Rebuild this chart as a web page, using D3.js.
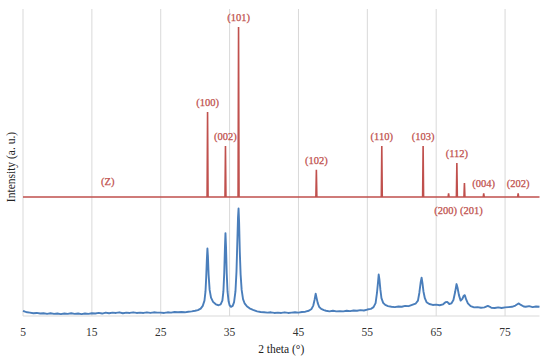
<!DOCTYPE html>
<html lang="en">
<head>
<meta charset="UTF-8">
<title>XRD pattern</title>
<script src="https://d3js.org/d3.v7.min.js"></script>
<style>
    body { margin: 0; background: #fff; }
    svg { display: block; font-family: "Liberation Serif", "DejaVu Serif", serif; }
    .grid line { stroke: #d9d9d9; stroke-width: 1; }
    .tick-label { font-size: 11.5px; fill: #333; text-anchor: middle; }
    .axis-title { font-size: 11.5px; fill: #222; text-anchor: middle; }
    .hkl { font-size: 10.5px; fill: #c0504d; text-anchor: middle; stroke: #c0504d; stroke-width: 0.25; }
</style>
</head>
<body>
<svg id="chart" width="550" height="359"></svg>
<script>
    // x axis ticks (2 theta, degrees)
    const xTicks = [5, 15, 25, 35, 45, 55, 65, 75];

    // reference pattern: peak positions, relative heights and Miller indices
    const refTheta = [31.8, 34.4, 36.3, 47.6, 57.1, 63.1, 66.8, 68.0, 69.1, 71.9, 76.9];
    const refHeight = [50, 30, 100, 16, 30, 30, 2.2, 20, 8.2, 2.2, 2.2];
    const refHkl = ["(100)", "(002)", "(101)", "(102)", "(110)", "(103)", "(200)", "(112)", "(201)", "(004)", "(202)"];

    const sampleTheta = [
        5.0, 5.3, 5.6, 6.0, 6.5, 7.0, 7.5, 8.0, 8.5, 9.0, 9.5, 10.0, 10.5, 11.0, 11.5, 12.0,
        12.5, 13.0, 13.5, 14.0, 14.5, 15.0, 15.5, 16.0, 16.5, 17.0, 17.5, 18.0, 18.5, 19.0,
        19.5, 20.0, 20.5, 21.0, 21.5, 22.0, 22.5, 23.0, 23.5, 24.0, 24.5, 25.0, 25.5, 26.0,
        26.5, 27.0, 27.5, 28.0, 28.5, 29.0, 29.5, 30.0, 30.4, 30.8, 31.1, 31.35, 31.5, 31.6,
        31.7, 31.78, 31.85, 31.95, 32.1, 32.3, 32.6, 33.0, 33.4, 33.7, 33.95, 34.1, 34.22,
        34.32, 34.4, 34.48, 34.58, 34.7, 34.85, 35.0, 35.2, 35.45, 35.65, 35.85, 36.0, 36.12,
        36.22, 36.3, 36.38, 36.48, 36.6, 36.75, 36.95, 37.2, 37.5, 37.9, 38.4, 39.0, 39.5,
        40.0, 40.5, 41.0, 41.5, 42.0, 42.5, 43.0, 43.5, 44.0, 44.5, 45.0, 45.5, 46.0, 46.5,
        46.9, 47.15, 47.35, 47.5, 47.62, 47.8, 48.0, 48.3, 48.7, 49.0, 49.5, 50.0, 50.5, 51.0,
        51.5, 52.0, 52.5, 53.0, 53.5, 54.0, 54.5, 55.0, 55.5, 55.9, 56.2, 56.4, 56.55, 56.65,
        56.75, 56.9, 57.05, 57.3, 57.6, 58.0, 58.5, 59.0, 59.5, 60.0, 60.5, 61.0, 61.5, 62.0,
        62.35, 62.55, 62.75, 62.88, 63.0, 63.15, 63.35, 63.6, 64.0, 64.5, 65.0, 65.5, 66.0,
        66.35, 66.6, 66.9, 67.2, 67.5, 67.75, 67.95, 68.1, 68.3, 68.55, 68.8, 69.0, 69.15,
        69.35, 69.6, 70.0, 70.5, 71.0, 71.5, 72.0, 72.5, 72.8, 73.0, 73.5, 74.0, 74.5, 75.0,
        75.5, 76.0, 76.5, 76.95, 77.3, 77.7, 78.0, 78.5, 79.0, 79.5, 80.0
    ];
    const sampleCounts = [
        1.7, 1.4, 1.2, 1.1, 0.9, 1.0, 0.8, 0.9, 0.7, 0.9, 0.7, 0.8, 0.6, 0.8, 0.7, 0.9,
        0.7, 0.8, 0.6, 0.8, 0.7, 0.9, 0.8, 1.0, 0.8, 1.1, 0.9, 1.1, 1.0, 1.2,
        0.9, 1.1, 1.0, 1.2, 1.0, 1.1, 1.0, 1.2, 1.0, 1.2, 1.1, 1.1, 1.0, 1.2,
        1.1, 1.3, 1.2, 1.3, 1.2, 1.4, 1.5, 1.7, 1.9, 2.4, 3.3, 5.0, 8.0, 12.5,
        18.5, 22.0, 19.5, 13.5, 8.5, 6.0, 4.6, 3.8, 3.5, 3.8, 5.0, 8.0, 14.0,
        22.0, 27.0, 22.5, 14.0, 8.0, 4.8, 3.5, 3.0, 3.3, 4.5, 8.0, 14.5, 24.0,
        32.0, 35.0, 30.5, 21.0, 13.5, 8.5, 5.5, 4.0, 3.2, 2.5, 2.0, 1.5, 1.3,
        1.2, 1.1, 1.2, 1.0, 1.1, 1.0, 1.2, 1.0, 1.1, 1.2, 1.1, 1.3, 1.4, 1.7,
        2.3, 3.4, 5.4, 7.3, 6.0, 4.2, 3.0, 2.3, 1.9, 1.7, 1.5, 1.7, 1.5, 1.6,
        1.5, 1.7, 1.6, 1.8, 1.7, 1.9, 1.8, 2.1, 2.3, 2.9, 4.2, 7.5, 11.0, 13.5,
        12.0, 8.5, 5.8, 4.3, 3.6, 3.2, 3.0, 2.9, 3.1, 3.0, 3.3, 3.2, 3.6, 4.0,
        5.0, 7.5, 11.0, 12.5, 10.8, 8.0, 5.8, 4.5, 3.9, 3.6, 3.7, 3.5, 3.8,
        4.5, 4.6, 3.9, 4.1, 5.2, 7.8, 10.4, 9.2, 6.8, 5.0, 5.6, 6.6, 6.8,
        5.4, 4.1, 3.2, 2.8, 2.9, 2.7, 2.8, 3.3, 3.0, 2.7, 2.6, 2.8, 2.6, 2.8,
        2.9, 3.0, 3.4, 4.1, 3.6, 3.1, 3.0, 3.2, 2.9, 3.1, 3.0
    ];

    const svg = d3.select("#chart");
    const margin = { left: 23, right: 10.5, top: 9, bottom: 43 };
    const width = +svg.attr("width");
    const height = +svg.attr("height");
    const plotBottom = height - margin.bottom;

    const x = d3.scaleLinear().domain([5, 80]).range([margin.left, width - margin.right]);
    // lower panel: measured pattern
    const y = d3.scaleLinear().domain([0, 100]).range([plotBottom, margin.top]);
    // upper panel: reference pattern
    const yRef = d3.scaleLinear().domain([0, 100]).range([197, 27]);

    // vertical gridlines
    const grid = svg.append("g").attr("class", "grid");
    grid.selectAll("line")
        .data(xTicks)
        .enter()
        .append("line")
        .attr("x1", d => x(d)).attr("x2", d => x(d))
        .attr("y1", margin.top).attr("y2", plotBottom);

    // bottom axis line
    grid.append("line")
        .attr("x1", x(5)).attr("x2", x(80))
        .attr("y1", plotBottom).attr("y2", plotBottom);

    // tick labels
    svg.selectAll(".tick-label")
        .data(xTicks)
        .enter()
        .append("text")
        .attr("class", "tick-label")
        .attr("x", d => x(d))
        .attr("y", plotBottom + 20)
        .text(d => d);

    // reference stick pattern as one line with spikes
    const refPts = [[5, 0]];
    refTheta.forEach((t, i) => {
        refPts.push([t - 0.07, 0], [t, refHeight[i]], [t + 0.07, 0]);
    });
    refPts.push([80, 0]);

    svg.append("path")
        .datum(refPts)
        .attr("fill", "none")
        .attr("stroke", "#c0504d")
        .attr("stroke-width", 1.6)
        .attr("d", d3.line().x(d => x(d[0])).y(d => yRef(d[1])));

    // measured pattern
    const sample = sampleTheta.map((t, i) => [t, sampleCounts[i]]);
    svg.append("path")
        .datum(sample)
        .attr("fill", "none")
        .attr("stroke", "#4a7ebb")
        .attr("stroke-width", 1.9)
        .attr("stroke-linejoin", "round")
        .attr("d", d3.line().x(d => x(d[0])).y(d => y(d[1])));

    // hkl labels: above the peak, except (200) and (201) which go under the baseline
    const under = { "(200)": -3, "(201)": 7 };
    svg.selectAll(".hkl")
        .data(refHkl)
        .enter()
        .append("text")
        .attr("class", "hkl")
        .attr("x", (d, i) => x(refTheta[i]) + (d in under ? under[d] : 0))
        .attr("y", (d, i) => d in under ? yRef(0) + 17 : yRef(refHeight[i]) - 6)
        .text(d => d);

    svg.append("text")
        .attr("class", "hkl")
        .attr("x", x(17.3))
        .attr("y", yRef(7))
        .text("(Z)");

    // axis titles
    svg.append("text")
        .attr("class", "axis-title")
        .attr("x", (x(5) + x(80)) / 2)
        .attr("y", height - 6)
        .text("2 theta (°)");

    svg.append("text")
        .attr("class", "axis-title")
        .attr("transform", "rotate(-90)")
        .attr("x", -167)
        .attr("y", 15)
        .text("Intensity (a. u.)");
</script>
</body>
</html>
